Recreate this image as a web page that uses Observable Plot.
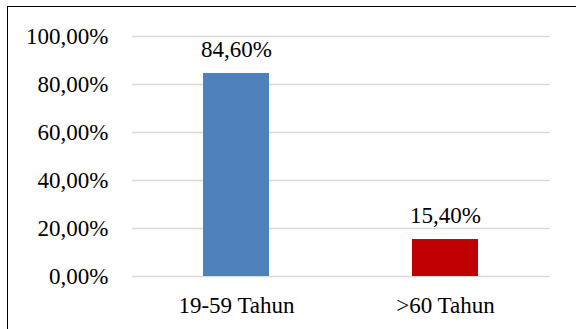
<!DOCTYPE html>
<html>
<head>
<meta charset="utf-8">
<script src="https://cdn.jsdelivr.net/npm/d3@7"></script>
<script src="https://cdn.jsdelivr.net/npm/@observablehq/plot@0.6"></script>
<style>
  html, body { margin: 0; padding: 0; background: #fff; }
  #wrap { position: relative; width: 576px; height: 329px; overflow: hidden; }
  #border { position: absolute; left: 6.5px; top: 5.5px; width: 600px; height: 400px; border: 1.6px solid #000; box-sizing: border-box; pointer-events: none; }
  #chart svg { display: block; }
  #chart svg, #chart svg text { font-family: "Liberation Serif", "Times New Roman", serif !important; }
</style>
</head>
<body>
<div id="wrap">
  <div id="chart"></div>
  <div id="border"></div>
</div>
<script>
const categories = ["19-59 Tahun", ">60 Tahun"];
const values = [84.6, 15.4];
const colors = ["#4f81bd", "#c00000"];
const yTicks = [0, 20, 40, 60, 80, 100];

const data = categories.map((c, i) => ({category: c, value: values[i], color: colors[i]}));
const fmt = d => d.toFixed(2).replace(".", ",") + "%";
const serif = "'Liberation Serif', 'Times New Roman', serif";

const chart = Plot.plot({
  width: 576,
  height: 329,
  marginLeft: 132,
  marginRight: 26,
  marginTop: 36,
  marginBottom: 53,
  style: {fontFamily: serif, fontSize: "23px", color: "#000", background: "transparent"},
  x: {domain: categories, paddingInner: 0.684, paddingOuter: 0.342, label: null},
  y: {domain: [0, 100], label: null},
  marks: [
    Plot.ruleY(yTicks, {stroke: "#d9d9d9", strokeWidth: 1.5}),
    Plot.barY(data, {x: "category", y: "value", fill: "color"}),
    Plot.text(data, {x: "category", y: "value", text: d => fmt(d.value), dy: -24, fill: "#000", fontSize: 23, fontFamily: serif}),
    Plot.axisY({ticks: yTicks, tickFormat: fmt, tickSize: 0, tickPadding: 24, label: null, fontSize: 23, fontFamily: serif}),
    Plot.axisX({tickSize: 0, tickPadding: 20, label: null, fontSize: 23, fontFamily: serif})
  ]
});
document.getElementById("chart").appendChild(chart);
</script>
</body>
</html>
